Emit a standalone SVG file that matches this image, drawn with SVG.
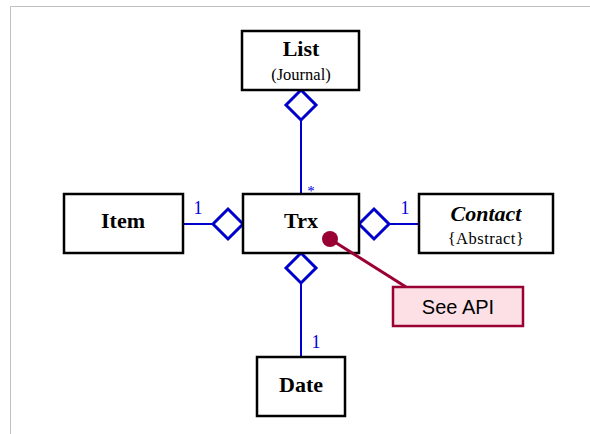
<svg xmlns="http://www.w3.org/2000/svg" width="590" height="434" viewBox="0 0 590 434">
<style>
.box{fill:#fff;stroke:#000;stroke-width:2.5}
.t{font-family:"Liberation Serif",serif;font-weight:bold;font-size:22px;fill:#000;text-anchor:middle}
.s{font-family:"Liberation Serif",serif;font-size:16.5px;fill:#000;text-anchor:middle}
.ln{stroke:#0000cc;stroke-width:2;fill:none}
.dm{stroke:#0000cc;stroke-width:3;fill:#fff;stroke-linejoin:miter}
.m{font-family:"Liberation Serif",serif;font-size:18px;fill:#0000dd;text-anchor:middle}
</style>
<rect width="590" height="434" fill="#fff"/>
<path d="M10.5 434V6.5H590" fill="none" stroke="#c0c0c0" stroke-width="1"/>
<g id="connectors">
<line class="ln" x1="301" y1="120" x2="301" y2="194"/>
<polygon class="dm" points="301,90 316,105 301,120 286,105"/>
<text class="m" x="311" y="196" style="font-size:15px">*</text>
<line class="ln" x1="183" y1="224" x2="213" y2="224"/>
<polygon class="dm" points="243,224 228,209 213,224 228,239"/>
<text class="m" x="198" y="214">1</text>
<line class="ln" x1="389" y1="224" x2="419" y2="224"/>
<polygon class="dm" points="359,224 374,209 389,224 374,239"/>
<text class="m" x="405" y="214">1</text>
<line class="ln" x1="301" y1="283" x2="301" y2="357"/>
<polygon class="dm" points="301,253 316,268 301,283 286,268"/>
<text class="m" x="316" y="348">1</text>
</g>
<g id="List">
<rect class="box" x="242" y="31" width="117" height="59"/>
<text class="t" x="301" y="56">List</text>
<text class="s" x="301" y="80">(Journal)</text>
</g>
<g id="Item">
<rect class="box" x="64" y="194" width="119" height="59"/>
<text class="t" x="123" y="228">Item</text>
</g>
<g id="Trx">
<rect class="box" x="243" y="194" width="116" height="59"/>
<text class="t" x="301" y="228">Trx</text>
</g>
<g id="Contact">
<rect class="box" x="419" y="194" width="134" height="59"/>
<text class="t" x="486" y="221" style="font-style:italic">Contact</text>
<text class="s" x="486" y="244" style="letter-spacing:0.5px">{Abstract}</text>
</g>
<g id="Date">
<rect class="box" x="257" y="357" width="88" height="59"/>
<text class="t" x="301" y="392">Date</text>
</g>
<g id="SeeAPI">
<line x1="330" y1="239" x2="406" y2="287" stroke="#990033" stroke-width="3"/>
<circle cx="330" cy="239" r="8" fill="#990033"/>
<rect x="393" y="287" width="130" height="39" fill="#fde0e6" stroke="#990033" stroke-width="2.5"/>
<text x="458" y="314" font-family="'Liberation Sans',Arial,sans-serif" font-size="20" text-anchor="middle" fill="#000">See API</text>
</g>
</svg>
